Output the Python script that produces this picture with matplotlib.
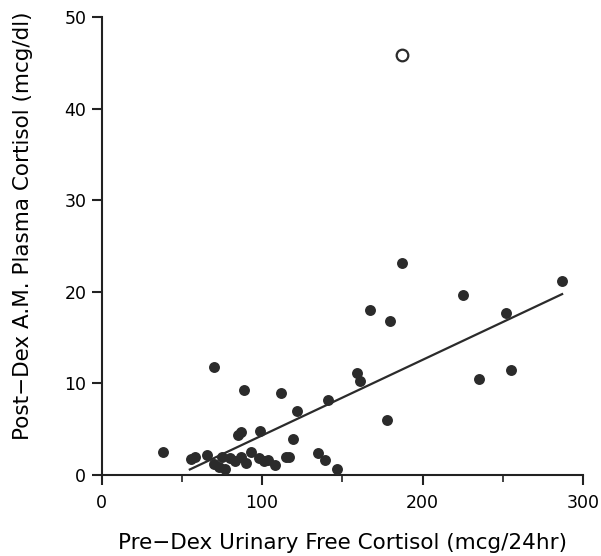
import matplotlib
matplotlib.use("Agg")
import matplotlib.pyplot as plt
import numpy as np

# Pre-Dex urinary free cortisol (mcg/24hr) vs post-Dex A.M. plasma cortisol (mcg/dl)
ufc = [38, 56, 58, 66, 70, 73, 75, 77, 80, 83, 87, 90, 93, 98, 101, 104, 108, 115,
       70, 89, 112, 122, 85, 87, 99, 119, 135, 139, 147, 117,
       187, 167, 180, 159, 161, 141, 178, 225, 287, 252, 235, 255]
plasma = [2.5, 1.7, 2.0, 2.2, 1.2, 0.9, 2.0, 0.6, 1.8, 1.5, 1.9, 1.3, 2.5, 1.8, 1.5, 1.6, 1.1, 2.0,
          11.8, 9.3, 8.9, 7.0, 4.4, 4.7, 4.8, 3.9, 2.4, 1.6, 0.6, 2.0,
          23.1, 18.0, 16.8, 11.1, 10.2, 8.2, 6.0, 19.6, 21.2, 17.7, 10.5, 11.5]

# outlier (open circle)
out_x = [187]
out_y = [45.9]

# regression line: y = a + b*x
fit_a = -3.96
fit_b = 0.0826
fit_range = [55, 287]

fig = plt.figure(figsize=(6.01, 5.56), dpi=100)
ax = fig.add_axes([0.169, 0.146, 0.801, 0.823])

ax.scatter(ufc, plasma, s=62, color="#2b2b2b", zorder=3, linewidths=0)
ax.scatter(out_x, out_y, s=70, facecolors="white", edgecolors="#2b2b2b", linewidths=1.6, zorder=3)

xs = np.array(fit_range)
ax.plot(xs, fit_a + fit_b * xs, color="#2b2b2b", lw=1.6, zorder=2)

ax.set_xlim(0, 300)
ax.set_ylim(0, 50)
ax.set_xticks([0, 100, 200, 300])
ax.set_xticks([50, 150, 250], minor=True)
ax.set_yticks([0, 10, 20, 30, 40, 50])

for s in ["top", "right"]:
    ax.spines[s].set_visible(False)
ax.spines["left"].set_linewidth(1.5)
ax.spines["bottom"].set_linewidth(1.5)
ax.spines["left"].set_color("#222222")
ax.spines["bottom"].set_color("#222222")

ax.tick_params(axis="both", which="major", length=7, width=1.5, labelsize=12.5, color="#222222")
ax.tick_params(axis="x", which="minor", length=5, width=1.2, color="#222222")
ax.tick_params(axis="x", pad=7)
ax.tick_params(axis="y", pad=4)

ax.set_xlabel("Pre\u2212Dex Urinary Free Cortisol (mcg/24hr)", fontsize=15.5, labelpad=15)
ax.set_ylabel("Post\u2212Dex A.M. Plasma Cortisol (mcg/dl)", fontsize=15.5)
ax.yaxis.set_label_coords(-0.143, 0.545)

fig.savefig("out.png", dpi=100)
